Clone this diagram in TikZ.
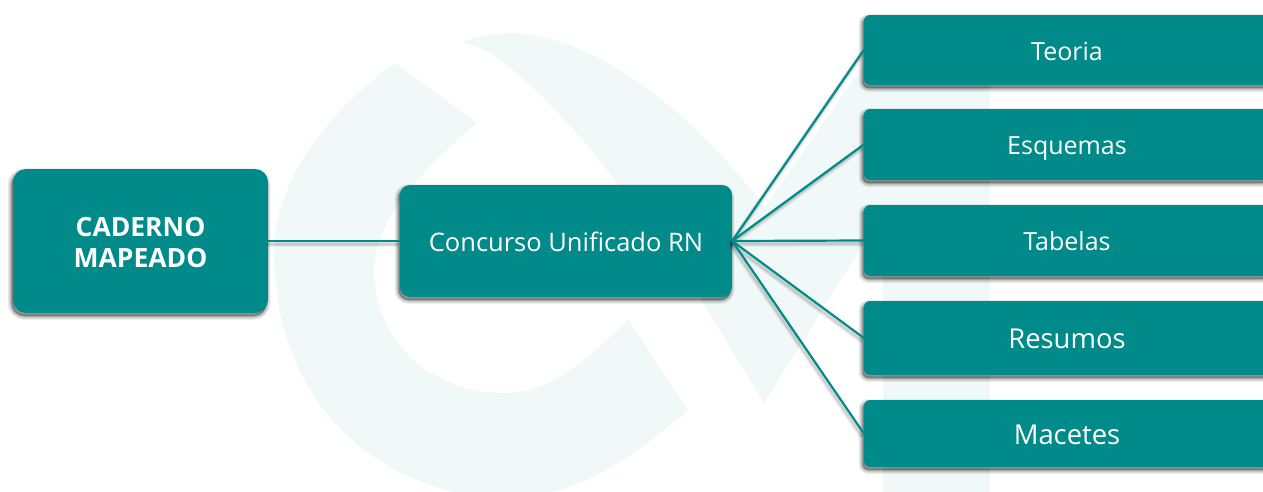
\documentclass[tikz,border=0pt]{standalone}
\usepackage{fontspec}
\setmainfont{Open Sans}
\definecolor{teal}{HTML}{008A8A}
\definecolor{wmark}{HTML}{F0F8F8}
\tikzset{
  shlayer/.style={preaction={draw=black,fill=black,draw opacity=.055,fill opacity=.055,line width=#1,transform canvas={shift={(-1.5pt,-3pt)}}}},
  softbox/.style={shlayer=8pt,shlayer=6.5pt,shlayer=5pt,shlayer=3.8pt,shlayer=2.6pt,shlayer=1.5pt,shlayer=.6pt,
    fill=teal, text=white, inner sep=0pt, align=center},
  rootbox/.style={softbox,rounded corners=13pt,minimum width=255pt,minimum height=144pt,font=\fontsize{26.5}{31}\selectfont\bfseries},
  midbox/.style={softbox,rounded corners=10pt,minimum width=332pt,minimum height=112pt,text height=23pt,text depth=2pt,font=\fontsize{25.5}{30}\selectfont},
  leafbox/.style={softbox,rounded corners=6pt,minimum width=406pt},
  leafsmall/.style={font=\fontsize{25}{28}\selectfont,text height=22pt,text depth=2pt},
  leafbig/.style={font=\fontsize{27.4}{32}\selectfont,text height=23pt,text depth=2pt},
  lnshadow/.style={preaction={draw=black,draw opacity=.05,line width=#1,transform canvas={shift={(-1.5pt,-3pt)}}}},
  link/.style={draw=teal,line width=2.2pt,lnshadow=6pt,lnshadow=4.5pt,lnshadow=3pt,lnshadow=1.5pt},
}
\begin{document}
\begin{tikzpicture}[x=1pt,y=-1pt]
\useasboundingbox (0,0) rectangle (1263,491);
\begin{scope}
\clip (0,0) rectangle (1263,491);
% watermark
\fill[wmark] (395,63) -- (477,123) .. controls (415,175) and (374,225) .. (374,270)
  .. controls (374,340) and (430,393) .. (503,393)
  .. controls (555,393) and (590,355) .. (629,320) -- (688,411)
  .. controls (640,450) and (590,488) .. (535,495) -- (467,495)
  .. controls (340,470) and (274,370) .. (274,253)
  .. controls (274,180) and (330,110) .. (395,63) -- cycle;
\fill[wmark] (462,42) .. controls (480,35) and (500,33) .. (517,33)
  .. controls (600,40) and (690,110) .. (765,207) -- (862,68) -- (990,68) -- (990,495) -- (883,495) -- (883,212)
  -- (764,403) -- (700,297) -- (617,183)
  .. controls (580,133) and (520,70) .. (490,53) .. controls (480,47) and (470,45) .. (462,42) -- cycle;
% nodes
\node[rootbox] (root) at (140.5,241) {\rule{0pt}{22pt}CADERNO\\MAPEADO};
\node[midbox] (mid) at (566,241) {Concurso Unificado RN};
\node[leafbox,leafsmall,minimum height=70pt] (teoria) at (1067,50) {Teoria};
\node[leafbox,leafsmall,minimum height=71pt] (esquemas) at (1067,144.5) {Esquemas};
\node[leafbox,leafsmall,minimum height=71pt] (tabelas) at (1067,240.5) {Tabelas};
\node[leafbox,leafbig,minimum height=74pt] (resumos) at (1067,338) {Resumos};
\node[leafbox,leafbig,minimum height=67pt] (macetes) at (1067,433.5) {Macetes};
% connectors
\path[link] (root.east) -- (mid.west);
\path[link] (mid.east) -- (teoria.west);
\path[link] (mid.east) -- (esquemas.west);
\path[link] (mid.east) -- (tabelas.west);
\path[link] (mid.east) -- (resumos.west);
\path[link] (mid.east) -- (macetes.west);
\end{scope}
\end{tikzpicture}
\end{document}
